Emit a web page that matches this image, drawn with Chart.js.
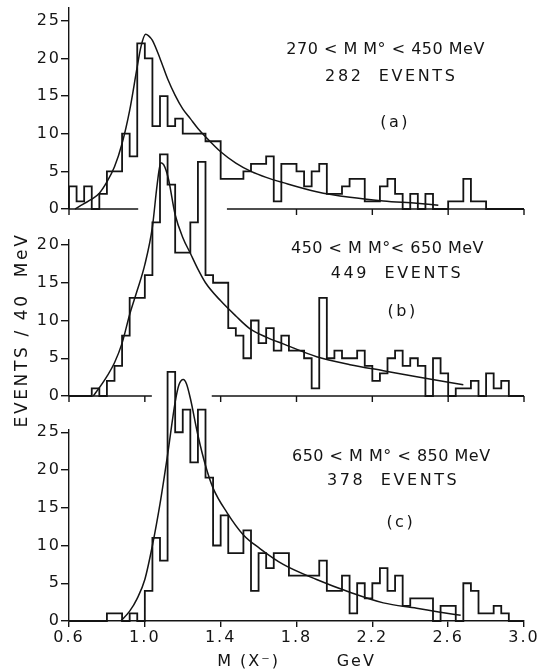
<!DOCTYPE html>
<html>
<head>
<meta charset="utf-8">
<title>M(X-) mass spectra</title>
<script src="https://cdn.jsdelivr.net/npm/chart.js@4.4.0/dist/chart.umd.min.js"></script>
<style>
  html, body { margin: 0; padding: 0; background: #fff; }
  #wrap { position: relative; width: 542px; height: 671px; }
  #wrap canvas { position: absolute; left: 0; top: 0; }
</style>
</head>
<body>
<div id="wrap">
  <canvas id="panelA" width="542" height="671"></canvas>
  <canvas id="panelB" width="542" height="671"></canvas>
  <canvas id="panelC" width="542" height="671"></canvas>
</div>
<script>
// --- HISTOGRAMS: events per 40 MeV bin, first bin starts at 0.60 GeV ---
const binStart = 0.6;
const binWidth = 0.04;

const countsA = [3, 1, 3, 0, 2, 5, 5, 10, 7, 22, 20, 11, 15, 11, 12, 10, 10, 10, 9, 9,
  4, 4, 4, 5, 6, 6, 7, 1, 6, 6, 5, 3, 5, 6, 2, 2, 3, 4, 4, 1,
  1, 3, 4, 2, 0, 2, 0, 2, 0, 0, 1, 1, 4, 1, 1, 0, 0, 0, 0, 0];
const countsB = [0, 0, 0, 1, 0, 2, 4, 8, 13, 13, 16, 23, 32, 28, 19, 19, 23, 31, 16, 15,
  15, 9, 8, 5, 10, 7, 9, 6, 8, 6, 6, 5, 1, 13, 5, 6, 5, 5, 6, 4,
  2, 3, 5, 6, 4, 5, 4, 0, 5, 3, 0, 1, 1, 2, 0, 3, 1, 2, 0, 0];
const countsC = [0, 0, 0, 0, 0, 1, 1, 0, 1, 0, 4, 11, 8, 33, 25, 28, 21, 28, 19, 10,
  14, 9, 9, 12, 4, 9, 7, 9, 9, 6, 6, 6, 6, 8, 4, 4, 6, 1, 5, 3,
  5, 7, 4, 6, 2, 3, 3, 3, 0, 2, 2, 0, 5, 4, 1, 1, 2, 1, 0, 0];

// --- FITTED CURVES (mass in GeV, events / 40 MeV) ---
const fitMassA = [0.632, 0.675, 0.72, 0.76, 0.80, 0.84, 0.88, 0.92, 0.96, 0.98, 1.004, 1.02, 1.04,
  1.08, 1.12, 1.16, 1.20, 1.24, 1.28, 1.32, 1.40, 1.48, 1.56, 1.64, 1.73, 1.906, 2.082, 2.258, 2.434, 2.548];
const fitA = [0, 0.66, 1.3, 2.1, 3.6, 5.6, 8.7, 13.1, 18.9, 21.6, 23.2, 23.0, 22.4,
  20.0, 17.3, 15.1, 13.3, 12.0, 10.7, 9.6, 7.6, 6.1, 5.0, 4.2, 3.5, 2.3, 1.55, 1.07, 0.75, 0.5];

const fitMassB = [0.728, 0.763, 0.80, 0.84, 0.88, 0.92, 0.96, 1.00, 1.04, 1.065, 1.084, 1.10, 1.124,
  1.16, 1.20, 1.24, 1.28, 1.32, 1.40, 1.48, 1.555, 1.64, 1.73, 1.906, 2.082, 2.258, 2.434, 2.609, 2.68];
const fitB = [0, 1.2, 2.6, 4.4, 7.0, 10.8, 14.0, 17.4, 22.4, 28.0, 30.9, 30.6, 28.8,
  24.0, 21.0, 18.9, 16.8, 15.0, 12.6, 10.6, 8.9, 7.8, 6.9, 5.2, 4.15, 3.35, 2.56, 1.8, 1.5];

const fitMassC = [0.873, 0.92, 0.96, 1.00, 1.04, 1.08, 1.12, 1.16, 1.18, 1.203, 1.22, 1.24, 1.28,
  1.32, 1.36, 1.435, 1.52, 1.607, 1.73, 1.906, 2.082, 2.258, 2.434, 2.55, 2.666];
const fitC = [0, 1.3, 3.0, 5.5, 10.0, 15.5, 22.0, 29.0, 31.3, 32.0, 31.4, 29.5, 24.6,
  20.6, 17.6, 14.3, 11.4, 9.6, 7.5, 5.5, 3.8, 2.4, 1.7, 1.2, 0.75];

// --- TEXT ---
const rangeLabels = ["270 < M M° < 450 MeV", "450 < M M°< 650 MeV", "650 < M M° < 850 MeV"];
const eventLabels = ["282  EVENTS", "449  EVENTS", "378  EVENTS"];
const panelTags = ["(a)", "(b)", "(c)"];
const yTitle = "EVENTS / 40  MeV";
const xTitle = "M (X\u207B)        GeV";

const ink = "#141414";
const fontFamily = '"DejaVu Sans", sans-serif';
Chart.defaults.font.family = fontFamily;
Chart.defaults.font.size = 16;
Chart.defaults.color = ink;

// outline of a histogram as a stepped line through the bin edges
function histPoints(counts) {
  const pts = [{ x: binStart, y: 0 }];
  counts.forEach((c, i) => pts.push({ x: binStart + i * binWidth, y: c }));
  pts.push({ x: binStart + counts.length * binWidth, y: 0 });
  return pts;
}

function curvePoints(xs, ys) {
  return xs.map((x, i) => ({ x: x, y: ys[i] }));
}

// wider lettering for everything Chart.js draws
const spacing = {
  id: "spacing",
  beforeDraw(chart) {
    chart.ctx.letterSpacing = "2px";
  },
};

// range / event count / panel letter
const panelNotes = {
  id: "panelNotes",
  afterDraw(chart, args, opts) {
    const { ctx, scales } = chart;
    ctx.save();
    ctx.fillStyle = ink;
    ctx.textAlign = "center";
    ctx.textBaseline = "middle";
    ctx.font = "16px " + fontFamily;
    opts.lines.forEach((ln) => {
      ctx.letterSpacing = ln.spacing;
      ctx.fillText(ln.text, scales.x.getPixelForValue(ln.at[0]), scales.y.getPixelForValue(ln.at[1]));
    });
    ctx.restore();
  },
};

// zero line of the upper panels, interrupted where the panel below runs through
const brokenBaseline = {
  id: "brokenBaseline",
  afterDraw(chart, args, opts) {
    if (!opts.segments) return;
    const { ctx, scales } = chart;
    const y0 = scales.y.getPixelForValue(0);
    ctx.save();
    ctx.strokeStyle = ink;
    ctx.lineWidth = 1.4;
    ctx.beginPath();
    opts.segments.forEach(([a, b]) => {
      ctx.moveTo(scales.x.getPixelForValue(a), y0);
      ctx.lineTo(scales.x.getPixelForValue(b), y0);
    });
    opts.ticks.forEach((t) => {
      if (!opts.segments.some(([a, b]) => t >= a && t <= b)) return;
      const px = scales.x.getPixelForValue(t);
      ctx.moveTo(px, y0);
      ctx.lineTo(px, y0 + 6);
    });
    ctx.stroke();
    ctx.restore();
  },
};

// shared vertical title beside the middle panel, stretched to a fixed run length
const sideTitle = {
  id: "sideTitle",
  afterDraw(chart) {
    const { ctx, chartArea } = chart;
    const run = 195;
    ctx.save();
    ctx.translate(chartArea.left - 46, chartArea.bottom - 66);
    ctx.rotate(-Math.PI / 2);
    ctx.fillStyle = ink;
    ctx.font = "17px " + fontFamily;
    ctx.letterSpacing = "0px";
    const natural = ctx.measureText(yTitle).width;
    if (natural > run) {
      ctx.font = (17 * run / natural).toFixed(1) + "px " + fontFamily;
    } else {
      ctx.letterSpacing = ((run - natural) / yTitle.length).toFixed(2) + "px";
    }
    ctx.textAlign = "center";
    ctx.textBaseline = "middle";
    ctx.fillText(yTitle, 0, 0);
    ctx.restore();
  },
};

const massTicks = [0.6, 1.0, 1.4, 1.8, 2.2, 2.6, 3.0];

function makePanel(cfg) {
  const showX = !!cfg.xAxis;
  return new Chart(document.getElementById(cfg.id), {
    type: "line",
    data: {
      datasets: [
        {
          data: histPoints(cfg.counts),
          stepped: true,
          borderColor: ink,
          borderWidth: 1.8,
          pointRadius: 0,
          fill: false,
          clip: false,
        },
        {
          data: curvePoints(cfg.fitX, cfg.fitY),
          borderColor: ink,
          borderWidth: 1.5,
          pointRadius: 0,
          fill: false,
          tension: 0.4,
          cubicInterpolationMode: "monotone",
          clip: false,
        },
      ],
    },
    options: {
      responsive: false,
      animation: false,
      events: [],
      layout: { padding: { left: 0, right: 18, top: cfg.top, bottom: cfg.bottom } },
      scales: {
        x: {
          type: "linear",
          min: 0.6,
          max: 3.0,
          display: showX,
          ticks: {
            stepSize: 0.4,
            padding: 1,
            color: ink,
            maxRotation: 0,
            callback: (v) => v.toFixed(1),
          },
          grid: { drawOnChartArea: false, drawTicks: true, tickLength: 6, color: ink, lineWidth: 1.4 },
          border: { display: true, color: ink, width: 1.4 },
          title: { display: showX, text: xTitle, color: ink, padding: { top: 0, bottom: 0 } },
          afterFit: (s) => {
            if (showX) s.height = 50;
          },
        },
        y: {
          type: "linear",
          min: 0,
          max: cfg.yMax,
          ticks: { stepSize: 5, includeBounds: false, padding: 0, color: ink },
          grid: { drawOnChartArea: false, drawTicks: true, tickLength: 8, color: ink, lineWidth: 1.4 },
          border: { display: true, color: ink, width: 1.4 },
          afterFit: (s) => {
            s.width = 69;
            s.paddingTop = 0;
            s.paddingBottom = 0;
          },
        },
      },
      plugins: {
        legend: { display: false },
        tooltip: { enabled: false },
        panelNotes: { lines: cfg.notes },
        brokenBaseline: { segments: cfg.segments, ticks: massTicks },
      },
    },
    plugins: [spacing, panelNotes, brokenBaseline].concat(cfg.extra || []),
  });
}

makePanel({
  id: "panelA",
  counts: countsA,
  fitX: fitMassA,
  fitY: fitA,
  yMax: 26.7,
  top: 8,
  bottom: 462,
  segments: [[0.6, 0.965], [1.433, 3.0]],
  notes: [
    { text: rangeLabels[0], at: [2.27, 21.2], spacing: "0.5px" },
    { text: eventLabels[0], at: [2.30, 17.5], spacing: "2.6px" },
    { text: panelTags[0], at: [2.32, 11.4], spacing: "2.5px" },
  ],
});

makePanel({
  id: "panelB",
  counts: countsB,
  fitX: fitMassB,
  fitY: fitB,
  yMax: 20.66,
  top: 240,
  bottom: 275,
  segments: [[0.6, 1.037], [1.353, 3.0]],
  notes: [
    { text: rangeLabels[1], at: [2.28, 19.5], spacing: "0.5px" },
    { text: eventLabels[1], at: [2.33, 16.2], spacing: "2.6px" },
    { text: panelTags[1], at: [2.36, 11.1], spacing: "2.5px" },
  ],
  extra: [sideTitle],
});

makePanel({
  id: "panelC",
  counts: countsC,
  fitX: fitMassC,
  fitY: fitC,
  yMax: 25.3,
  top: 430,
  bottom: 0,
  xAxis: true,
  notes: [
    { text: rangeLabels[2], at: [2.30, 21.7], spacing: "0.5px" },
    { text: eventLabels[2], at: [2.31, 18.5], spacing: "2.6px" },
    { text: panelTags[2], at: [2.35, 13.0], spacing: "2.5px" },
  ],
});
</script>
</body>
</html>
